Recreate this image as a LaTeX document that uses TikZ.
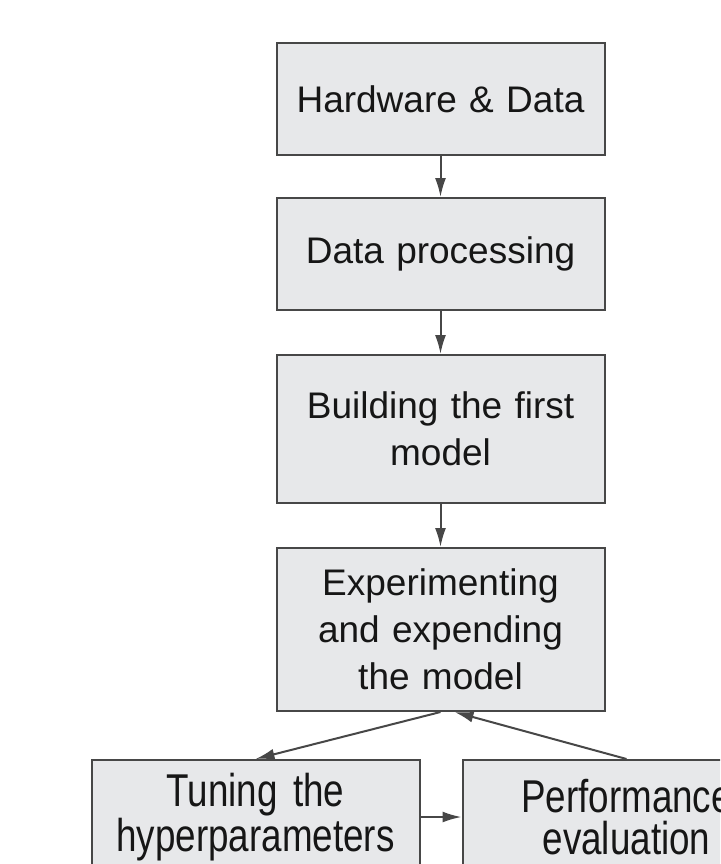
\documentclass[tikz,border=0pt]{standalone}
\usepackage{fontspec}
\setmainfont{Liberation Sans}
\newfontfamily\tallfont[FakeStretch=0.8]{Liberation Sans}
\usepackage{xcolor}
\definecolor{flow-fill}{HTML}{E7E8EA}
\definecolor{flow-line}{HTML}{474747}
\definecolor{flow-text}{HTML}{161616}
\usetikzlibrary{arrows.meta}

\begin{document}
\begin{tikzpicture}[x=0.5pt, y=-0.5pt,
    stagebox/.style={draw=flow-line, fill=flow-fill, line width=1pt, inner sep=0pt,
      text width=164pt, align=center, text=flow-text,
      font=\fontsize{18.5}{23.5}\selectfont},
    loopbox/.style={stagebox, font=\tallfont\fontsize{23}{21}\selectfont},
    flowarrow/.style={draw=flow-line, line width=1pt, -{Latex[length=9.5pt, width=5.5pt]}}]

    % Page
    \useasboundingbox (0, 0) rectangle (720, 864);
    \clip (0, 0) rectangle (720, 864);

    % Main column
    \node[stagebox, minimum height=56pt] (hardware) at (440.5, 99) {Hardware \& Data};
    \node[stagebox, minimum height=56pt] (processing) at (440.5, 254) {Data processing};
    \node[stagebox, minimum height=74pt] (firstmodel) at (440.5, 429) {Building the first\\model};
    \node[stagebox, minimum height=81.5pt] (experiment) at (440.5, 629.5) {Experimenting\\and expending\\the model};

    % Loop
    \node[loopbox, minimum height=57pt] (tuning) at (255.5, 817) {Tuning the\\hyperparameters};
    \node[loopbox, minimum height=57pt] (evaluation) at (626.5, 817) {Performance\\evaluation};
    \coordinate (loopin) at ([xshift=7pt]experiment.south);

    % Arrows
    \draw[flowarrow] (hardware) -- (processing);
    \draw[flowarrow] (processing) -- (firstmodel);
    \draw[flowarrow] (firstmodel) -- (experiment);
    \draw[flowarrow] (experiment.south) -- (tuning.north);
    \draw[flowarrow] (tuning) -- (evaluation);
    \draw[flowarrow] (evaluation.north) -- (loopin);

\end{tikzpicture}
\end{document}
